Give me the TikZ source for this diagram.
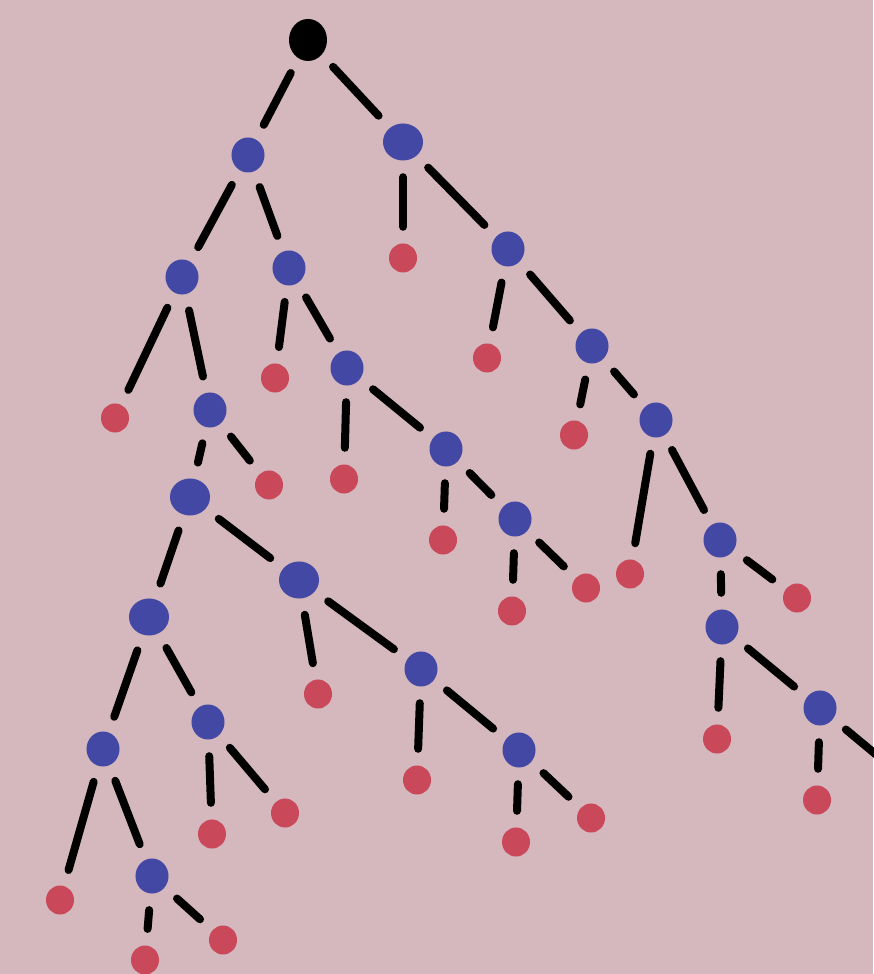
\documentclass[tikz,border=0pt]{standalone}
\usetikzlibrary{shapes.geometric}
\definecolor{bgc}{HTML}{D5B8BD}
\definecolor{bluec}{HTML}{4248A4}
\definecolor{redc}{HTML}{C9485A}
\tikzset{
  blob/.style={ellipse,inner sep=0pt,draw=none},
  rootnode/.style={blob,fill=black,minimum width=0.38cm,minimum height=0.42cm},
  bnode/.style={blob,fill=bluec,minimum width=0.33cm,minimum height=0.35cm},
  bignode/.style={blob,fill=bluec,minimum width=0.40cm,minimum height=0.37cm},
  rnode/.style={blob,fill=redc,minimum width=0.28cm,minimum height=0.29cm},
  edge/.style={draw=black,line width=0.08cm,line cap=round,shorten >=0.16cm,shorten <=0.16cm},
}
\begin{document}
\begin{tikzpicture}[x={(0.01cm,0)},y={(0,-0.01cm)}]
\fill[bgc] (0,0) rectangle (873,974);
\useasboundingbox (0,0) rectangle (873,974);
\node[rootnode] (root) at (308,40) {};
\node[bnode] (A) at (248,155) {};
\node[bignode] (B) at (403,142) {};
\node[rnode] (rB) at (403,258) {};
\node[bnode] (C) at (508,249) {};
\node[bnode] (D) at (182,277) {};
\node[bnode] (E) at (289,268) {};
\node[rnode] (rD) at (115,418) {};
\node[bnode] (F) at (210,410) {};
\node[rnode] (rE) at (275,378) {};
\node[bnode] (G) at (347,368) {};
\node[rnode] (rC) at (487,358) {};
\node[bnode] (H) at (592,346) {};
\node[rnode] (rH) at (574,435) {};
\node[bnode] (I) at (656,420) {};
\node[bignode] (J) at (190,497) {};
\node[rnode] (rF) at (269,485) {};
\node[rnode] (rG) at (344,479) {};
\node[bnode] (K) at (446,449) {};
\node[rnode] (rK) at (443,540) {};
\node[bnode] (L) at (515,519) {};
\node[rnode] (rL1) at (512,611) {};
\node[rnode] (rL2) at (586,588) {};
\node[rnode] (rI) at (630,574) {};
\node[bnode] (M) at (720,540) {};
\node[bnode] (N) at (722,627) {};
\node[rnode] (rM) at (797,598) {};
\node[rnode] (rN) at (717,739) {};
\node[bnode] (O) at (820,708) {};
\node[rnode] (rO) at (817,800) {};
\coordinate (off) at (885,762);
\node[bignode] (P) at (149,617) {};
\node[bignode] (Q) at (299,580) {};
\node[rnode] (rQ) at (318,694) {};
\node[bnode] (R) at (421,669) {};
\node[rnode] (rR) at (417,780) {};
\node[bnode] (S) at (519,750) {};
\node[rnode] (rS1) at (516,842) {};
\node[rnode] (rS2) at (591,818) {};
\node[bnode] (T) at (103,749) {};
\node[bnode] (U) at (208,722) {};
\node[rnode] (rU1) at (212,834) {};
\node[rnode] (rU2) at (285,813) {};
\node[rnode] (rT) at (60,900) {};
\node[bnode] (V) at (152,876) {};
\node[rnode] (rV1) at (145,960) {};
\node[rnode] (rV2) at (223,940) {};
\foreach \a/\b in {root/A,root/B,A/D,A/E,B/rB,B/C,D/rD,D/F,E/rE,E/G,C/rC,C/H,H/rH,H/I,F/J,F/rF,G/rG,G/K,K/rK,K/L,L/rL1,L/rL2,I/rI,I/M,M/N,M/rM,N/rN,N/O,O/rO,J/P,J/Q,Q/rQ,Q/R,R/rR,R/S,S/rS1,S/rS2,P/T,P/U,U/rU1,U/rU2,T/rT,T/V,V/rV1,V/rV2}
  \draw[edge] (\a) -- (\b);
\draw[edge,shorten >=0pt] (O) -- (off);
\end{tikzpicture}
\end{document}
